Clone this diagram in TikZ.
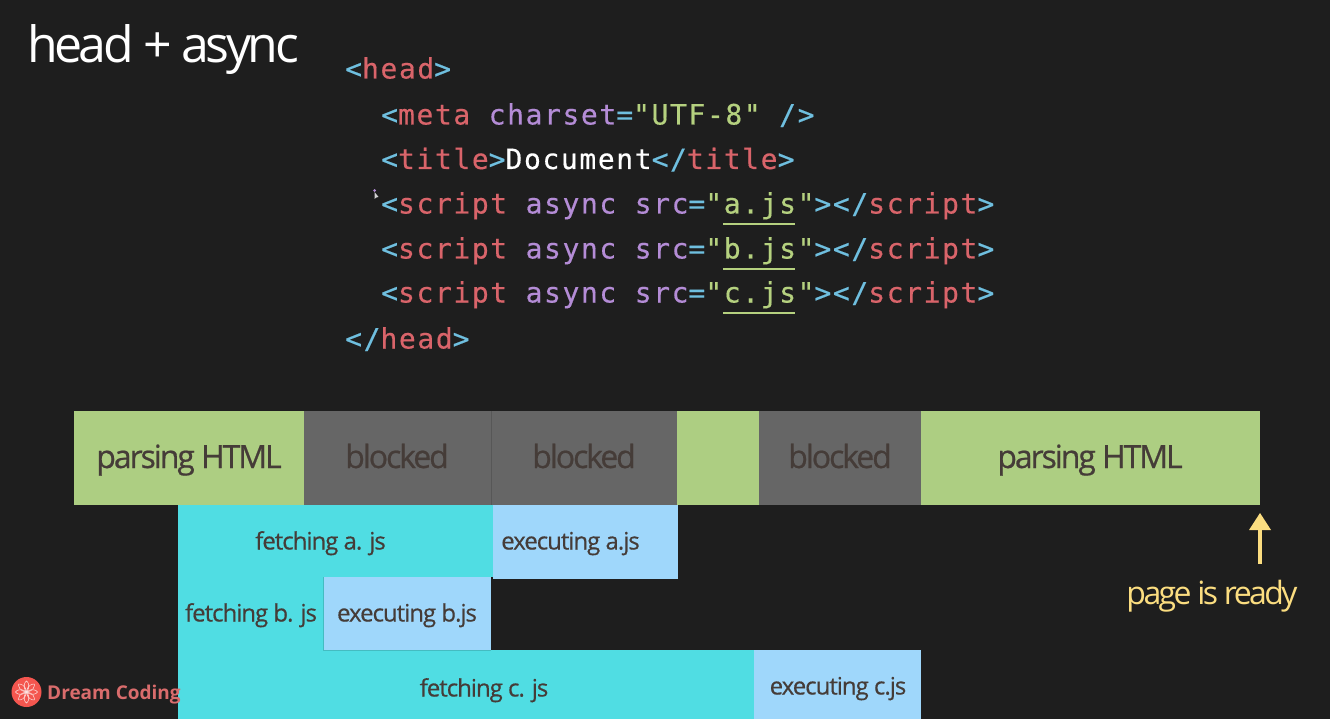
\documentclass[tikz,border=0pt]{standalone}
\usepackage{fontspec}
\setmainfont{Open Sans}
\newfontfamily\labelfont[LetterSpace=-6.5,FakeBold=0.6]{Open Sans}
\newfontfamily\smallfont[LetterSpace=-4.2,FakeBold=0.5]{Open Sans}
\newfontfamily\readyfont[LetterSpace=-8]{Open Sans}
\newfontfamily\titlefont[LetterSpace=-7]{Open Sans}
\newfontfamily\codefont[LetterSpace=5.7,FakeBold=0.4,Ligatures=NoCommon]{DejaVu Sans Mono}
\newfontfamily\brandfont{Open Sans}
\definecolor{bg}{HTML}{1E1E1E}
\definecolor{barG}{HTML}{ADCE82}
\definecolor{barK}{HTML}{666666}
\definecolor{barC}{HTML}{50DDE3}
\definecolor{barB}{HTML}{9FD7FB}
\definecolor{ink}{HTML}{453C38}
\definecolor{cP}{HTML}{6FBFDF}
\definecolor{cT}{HTML}{D9646A}
\definecolor{cA}{HTML}{B48CD6}
\definecolor{cS}{HTML}{B5D17F}
\definecolor{ready}{HTML}{FBDD80}
\definecolor{brand}{HTML}{D96C6C}
\definecolor{brandc}{HTML}{F4564F}
\newcommand{\Pu}[1]{\textcolor{cP}{#1}}
\newcommand{\Tg}[1]{\textcolor{cT}{#1}}
\newcommand{\At}[1]{\textcolor{cA}{#1}}
\newcommand{\St}[1]{\textcolor{cS}{#1}}
\tikzset{
  lbl/.style={inner sep=0pt,anchor=base,font=\labelfont\fontsize{32}{32}\selectfont,text=ink},
  sml/.style={inner sep=0pt,anchor=base,font=\smallfont\fontsize{24}{24}\selectfont,text=ink},
  code/.style={anchor=base west,inner sep=0pt,font=\codefont\fontsize{28}{28}\selectfont},
  uline/.style={draw=cS,line width=1.3pt},
}
\begin{document}
\begin{tikzpicture}[x=1pt,y=-1pt]
\useasboundingbox (0,0) rectangle (1330,719);
\fill[bg] (0,0) rectangle (1330,719);
\node[inner sep=0pt,anchor=base west,text=white,font=\titlefont\fontsize{50}{50}\selectfont] (title) at (27,63) {head + async};
% code
\node[code] (l1) at (345,78.5) {\Pu{<}\Tg{head}\Pu{>}};
\node[code] (l2) at (381,124.5) {\Pu{<}\Tg{meta} \At{charset}\Pu{=}\St{"UTF-8"} \Pu{/>}};
\node[code] (l3) at (381,169) {\Pu{<}\Tg{title}\Pu{>}\textcolor{white}{Document}\Pu{</}\Tg{title}\Pu{>}};
\node[code] (l4) at (381,213.5) {\Pu{<}\Tg{script} \At{async} \At{src}\Pu{=}\St{"a.js"}\Pu{></}\Tg{script}\Pu{>}};
\node[code] (l5) at (381,258.5) {\Pu{<}\Tg{script} \At{async} \At{src}\Pu{=}\St{"b.js"}\Pu{></}\Tg{script}\Pu{>}};
\node[code] (l6) at (381,302.5) {\Pu{<}\Tg{script} \At{async} \At{src}\Pu{=}\St{"c.js"}\Pu{></}\Tg{script}\Pu{>}};
\node[code] (l7) at (345,348.5) {\Pu{</}\Tg{head}\Pu{>}};
\draw[uline] (723,224) -- (795,224);
\draw[uline] (723,269) -- (795,269);
\draw[uline] (723,313) -- (795,313);
% cursor
\fill[cA] (374.5,190.5) circle (1.5);
\fill[white!80!bg] (374.5,192) -- (374.5,199) -- (376.3,197.5) -- (378.5,197) -- cycle;
% top bar
\foreach \n/\xa/\xb/\c in {s1/74/304/barG,s2/304/491/barK,s3/491/677/barK,s4/677/759/barG,s5/759/921/barK,s6/921/1260/barG}
  \fill[\c] (\xa,411) rectangle (\xb,505);
\draw[black!15!barK,line width=.6pt] (491,411) -- (491,505);
\fill[barC] (178,505) rectangle (493,577);
\fill[barB] (493,505) rectangle (678,578.5);
\fill[barC] (178,577) rectangle (323,650);
\fill[barB] (323,577) rectangle (491,650);
\fill[barC] (178,650) rectangle (754,719);
\fill[barB] (754,650) rectangle (921,719);
\draw[barC!85!black,line width=.6pt] (323,577) -- (323,650) -- (491,650);
\node[lbl] (t1) at (189,468) {parsing HTML};
\node[lbl] (t2) at (397,468) {blocked};
\node[lbl] (t3) at (584,468) {blocked};
\node[lbl] (t4) at (840,468) {blocked};
\node[lbl] (t5) at (1090,468) {parsing HTML};
\node[sml] (f1) at (320.5,549.5) {fetching a. js};
\node[sml] (e1) at (570.5,549.5) {executing a.js};
\node[sml] (f2) at (251,621.5) {fetching b. js};
\node[sml] (e2) at (407,621.5) {executing b.js};
\node[sml] (f3) at (484,696.5) {fetching c. js};
\node[sml] (e3) at (838,694.5) {executing c.js};
% page ready
\node[inner sep=0pt,anchor=base,text=ready,font=\readyfont\fontsize{32}{32}\selectfont] (ready) at (1212,604) {page is ready};
\coordinate (arrowtop) at (1260,513);
\coordinate (arrowbot) at (1260,564);
\fill[ready] (arrowtop) -- (1271,530) -- (1249,530) -- cycle;
\draw[ready,line width=3.2pt] (1260,529) -- (arrowbot);
% brand
\node[circle,fill=brandc,minimum size=30pt,inner sep=0pt] (logo) at (26.5,692) {};
\foreach \a in {0,45,...,315}
  \draw[white!85!brandc,line width=.5pt,rotate around={\a:(logo.center)}] (26.5,692) .. controls (22,686) and (25,682) .. (26.5,681) .. controls (28,682) and (31,686) .. (26.5,692);
\node[inner sep=0pt,anchor=base west,text=brand,font=\brandfont\bfseries\fontsize{19}{19}\selectfont] (brandname) at (47,699) {Dream Coding};
\end{tikzpicture}
\end{document}
